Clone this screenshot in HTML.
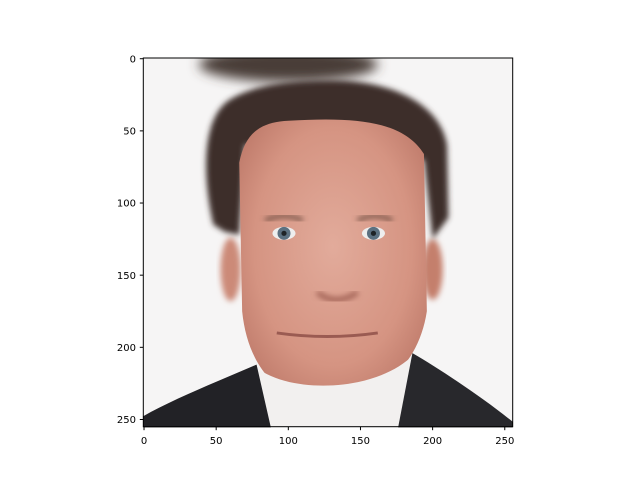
<!DOCTYPE html>
<html><head><meta charset="utf-8"><style>
body{margin:0;background:#fff;}
svg text{font-family:"DejaVu Sans","Liberation Sans",sans-serif;font-size:10px;fill:#000;}
</style></head><body>
<svg id="chart" width="640" height="480" viewBox="0 0 640 480">
<defs>
<filter id="b2" x="-20%" y="-20%" width="140%" height="140%"><feGaussianBlur stdDeviation="2"/></filter>
<filter id="b4" x="-30%" y="-30%" width="160%" height="160%"><feGaussianBlur stdDeviation="4"/></filter>
<radialGradient id="skin" cx="50%" cy="45%" r="60%"><stop offset="0" stop-color="#e2ab9b"/><stop offset="0.7" stop-color="#d59482"/><stop offset="1" stop-color="#c07c6c"/></radialGradient>
<clipPath id="clip"><rect x="-0.5" y="-0.5" width="256" height="256"/></clipPath>
</defs>
<g transform="translate(143.3,58) scale(1.443) translate(0.5,0.5)">
<g clip-path="url(#clip)">
<rect x="-0.5" y="-0.5" width="256" height="256" fill="#f6f5f5"/>
<ellipse cx="100" cy="4" rx="62" ry="12" fill="#4a3e38" filter="url(#b4)"/>
<ellipse cx="60" cy="146" rx="7" ry="22" fill="#cc8a78" filter="url(#b2)"/>
<ellipse cx="200" cy="146" rx="7" ry="21" fill="#c47f6c" filter="url(#b2)"/>
<path d="M48,115 C40,80 40,40 60,28 C80,16 110,15 130,15 C170,15 205,30 210,60 L211,110 L200,125 L194,70 L70,60 L66,122 L56,120 Z" fill="#3d2f29" filter="url(#b2)"/>
<path d="M66,72 C70,52 80,44 100,43 C150,40 180,44 194,66 L196,175 C190,215 160,238 125,238 C95,238 72,215 68,175 Z" fill="url(#skin)"/>
<path d="M84,112 Q97,106 110,112" stroke="#6a4a3e" stroke-width="2.5" fill="none" filter="url(#b2)"/>
<path d="M148,112 Q160,106 172,112" stroke="#6a4a3e" stroke-width="2.5" fill="none" filter="url(#b2)"/>
<ellipse cx="97" cy="121" rx="8" ry="4.5" fill="#eee"/>
<ellipse cx="159" cy="121" rx="8" ry="4.5" fill="#eee"/>
<circle cx="97" cy="121" r="4.5" fill="#5b7080"/>
<circle cx="159" cy="121" r="4.5" fill="#5b7080"/>
<circle cx="97" cy="121" r="1.8" fill="#1e2326"/>
<circle cx="159" cy="121" r="1.8" fill="#1e2326"/>
<path d="M120,162 Q133,172 148,162" stroke="#9a5a4e" stroke-width="3" fill="none" filter="url(#b2)"/>
<path d="M92,190 Q127,195 162,190" stroke="#9a5b52" stroke-width="2" fill="none"/>
<path d="M78,214 C100,232 160,232 187,205 L190,256 L80,256 Z" fill="#f2f0ef"/>
<path d="M-1,248 C20,236 50,224 78,212 L88,256 L-1,256 Z" fill="#222226"/>
<path d="M186,204 C205,215 235,235 256,252 L256,256 L176,256 Z" fill="#28282c"/>
</g>
</g>
<rect x="143.3" y="58" width="369.4" height="368.7" fill="none" stroke="#000" stroke-width="1"/>
<g id="xt"></g>
<g id="yt"></g>
</svg>
<script>
const xTicks=[0,50,100,150,200,250];
const yTicks=[0,50,100,150,200,250];
const ns="http://www.w3.org/2000/svg";
const sx=v=>143.3+(v+0.5)*1.443, sy=v=>58+(v+0.5)*1.443;
const xg=document.getElementById('xt'), yg=document.getElementById('yt');
xTicks.forEach(t=>{
 const l=document.createElementNS(ns,'line');
 
 
 l.setAttribute('x1',sx(t));l.setAttribute('x2',sx(t));l.setAttribute('y1',426.7);l.setAttribute('y2',430.2);l.setAttribute('stroke','#000');
 xg.appendChild(l);
 const tx=document.createElementNS(ns,'text');
 
 
 tx.setAttribute('x',sx(t));tx.setAttribute('y',444);tx.setAttribute('text-anchor','middle');tx.textContent=t;
 xg.appendChild(tx);
});
yTicks.forEach(t=>{
 const l=document.createElementNS(ns,'line');
 
 
 l.setAttribute('x1',139.8);l.setAttribute('x2',143.3);l.setAttribute('y1',sy(t));l.setAttribute('y2',sy(t));l.setAttribute('stroke','#000');
 yg.appendChild(l);
 const tx=document.createElementNS(ns,'text');
 
 
 tx.setAttribute('x',136);tx.setAttribute('y',sy(t)+3.6);tx.setAttribute('text-anchor','end');tx.textContent=t;
 yg.appendChild(tx);
});
</script>
</body></html>
